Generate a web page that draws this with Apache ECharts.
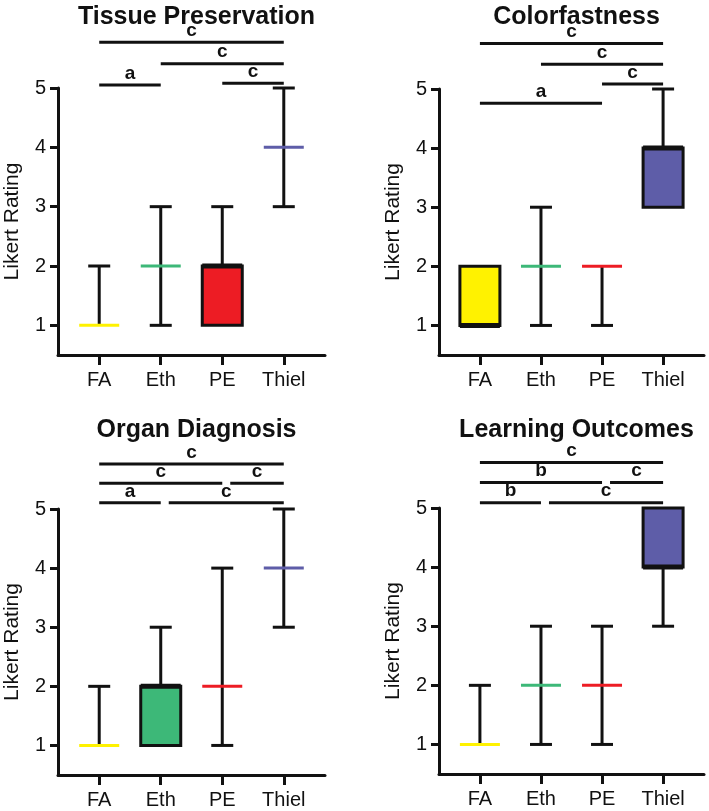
<!DOCTYPE html>
<html><head><meta charset="utf-8">
<script src="https://cdn.jsdelivr.net/npm/echarts@6/dist/echarts.min.js"></script>
<style>html,body{margin:0;padding:0;background:#fff}#c{width:709px;height:811px}</style>
</head><body><div id="c"></div>
<script>
const categories = ['FA', 'Eth', 'PE', 'Thiel'];
const yTicks = [1, 2, 3, 4, 5];
const titles = ['Tissue Preservation', 'Colorfastness', 'Organ Diagnosis', 'Learning Outcomes'];
const axisName = 'Likert Rating';
const groupColors = ['#FFF200', '#3DB878', '#ED1C24', '#5E5DA8'];

// per category: [min, q1, median, q3, max]
const tissueBoxes = [[1,1,1,1,2],[1,2,2,2,3],[1,1,2,2,3],[3,4,4,4,5]];
const colorBoxes  = [[1,1,1,2,2],[1,2,2,2,3],[1,2,2,2,2],[3,3,4,4,5]];
const organBoxes  = [[1,1,1,1,2],[1,1,2,2,3],[1,2,2,2,4],[3,4,4,4,5]];
const learnBoxes  = [[1,1,1,1,2],[1,2,2,2,3],[1,2,2,2,3],[3,4,4,5,5]];

// significance brackets: [from category, to category, rating level, letter]
const tissueSig = [[0,3,5.77,'c'],[1,3,5.41,'c'],[0,1,5.05,'a'],[2,3,5.08,'c']];
const colorSig  = [[0,3,5.77,'c'],[1,3,5.42,'c'],[2,3,5.085,'c'],[0,2,4.76,'a']];
const organSig  = [[0,3,5.76,'c'],[0,2,5.435,'c'],[2,3,5.435,'c'],[0,1,5.105,'a'],[1,3,5.105,'c']];
const learnSig  = [[0,3,5.77,'c'],[0,2,5.43,'b'],[2,3,5.43,'c'],[0,1,5.09,'b'],[1,3,5.09,'c']];

const allBoxes = [tissueBoxes, colorBoxes, organBoxes, learnBoxes];
const allSig = [tissueSig, colorSig, organSig, learnSig];

const FONT = '"Liberation Sans", Arial, Helvetica, sans-serif';
const BLACK = '#111111';
const grids = [
  {left: 58, top: 88, width: 267, height: 267},
  {left: 439, top: 89, width: 265, height: 266},
  {left: 58, top: 509, width: 267, height: 266},
  {left: 439, top: 508, width: 265, height: 266}
];
const titleTops = [0, 0, 413, 413];

const chart = echarts.init(document.getElementById('c'), null, {renderer: 'canvas'});

function boxRender(params, api) {
  const i = api.value(0);
  const mn = api.value(1), q1 = api.value(2), md = api.value(3), q3 = api.value(4), mx = api.value(5);
  const cx = api.coord([i, 1])[0];
  const Y = v => api.coord([i, v])[1];
  const color = groupColors[i];
  const halfBox = 20, halfCap = 11;
  const wl = {stroke: BLACK, lineWidth: 3, lineCap: 'butt'};
  const ch = [];
  if (mx > q3) {
    ch.push({type: 'line', shape: {x1: cx, y1: Y(q3), x2: cx, y2: Y(mx)}, style: wl});
    ch.push({type: 'line', shape: {x1: cx - halfCap, y1: Y(mx), x2: cx + halfCap, y2: Y(mx)}, style: wl});
  }
  if (mn < q1) {
    ch.push({type: 'line', shape: {x1: cx, y1: Y(mn), x2: cx, y2: Y(q1)}, style: wl});
    ch.push({type: 'line', shape: {x1: cx - halfCap, y1: Y(mn), x2: cx + halfCap, y2: Y(mn)}, style: wl});
  }
  if (q3 > q1) {
    ch.push({type: 'rect', shape: {x: cx - halfBox, y: Y(q3), width: 2 * halfBox, height: Y(q1) - Y(q3)},
      style: {fill: color, stroke: BLACK, lineWidth: 3}});
    ch.push({type: 'line', shape: {x1: cx - halfBox, y1: Y(md), x2: cx + halfBox, y2: Y(md)},
      style: {stroke: BLACK, lineWidth: 5}});
  } else {
    ch.push({type: 'line', shape: {x1: cx - halfBox, y1: Y(md), x2: cx + halfBox, y2: Y(md)},
      style: {stroke: color, lineWidth: 3, lineCap: 'butt'}});
  }
  return {type: 'group', children: ch};
}

function makeSigRender(sig) {
  return function (params, api) {
    const a = api.value(0), b = api.value(1), lv = api.value(2);
    const letter = sig[params.dataIndex][3];
    const adj = sig.some(s => s !== sig[params.dataIndex] && s[2] === lv && s[1] === a);
    const p1 = api.coord([a, lv]), p2 = api.coord([b, lv]);
    const x1 = p1[0] + (adj ? 8 : 0), x2 = p2[0];
    return {type: 'group', children: [
      {type: 'line', shape: {x1: x1, y1: p1[1], x2: x2, y2: p1[1]}, style: {stroke: BLACK, lineWidth: 3}},
      {type: 'text', x: (x1 + x2) / 2, y: p1[1] - 2,
        style: {text: letter, fill: BLACK, font: 'bold 19px ' + FONT, align: 'center', verticalAlign: 'bottom'}}
    ]};
  };
}

const option = {
  backgroundColor: '#ffffff',
  animation: false,
  title: titles.map((t, k) => ({
    text: t, left: grids[k].left + grids[k].width / 2, top: titleTops[k], textAlign: 'center',
    textStyle: {fontFamily: FONT, fontSize: 25, fontWeight: 'bold', color: BLACK}
  })),
  grid: grids,
  xAxis: grids.map((g, k) => ({
    type: 'value', gridIndex: k, min: -0.67, max: 3.67,
    splitLine: {show: false},
    axisLine: {show: true, onZero: false, lineStyle: {color: BLACK, width: 3}},
    axisTick: {show: true, customValues: [0, 1, 2, 3], length: 10, lineStyle: {color: BLACK, width: 3}},
    axisLabel: {customValues: [0, 1, 2, 3], formatter: v => categories[Math.round(v)] || '',
      fontFamily: FONT, fontSize: 20, color: BLACK, margin: 15}
  })),
  yAxis: grids.map((g, k) => ({
    type: 'value', gridIndex: k, min: 0.5, max: 5,
    name: axisName, nameLocation: 'middle', nameGap: 35,
    nameTextStyle: {fontFamily: FONT, fontSize: 21, color: BLACK},
    splitLine: {show: false},
    axisLine: {show: true, onZero: false, lineStyle: {color: BLACK, width: 3}},
    axisTick: {show: true, customValues: yTicks, length: 8, lineStyle: {color: BLACK, width: 3}},
    axisLabel: {customValues: yTicks, fontFamily: FONT, fontSize: 20, color: BLACK, margin: 12}
  })),
  series: []
};

allBoxes.forEach((boxes, k) => {
  option.series.push({
    type: 'custom', xAxisIndex: k, yAxisIndex: k,
    renderItem: boxRender,
    encode: {x: 0, y: [1, 2, 3, 4, 5]},
    data: boxes.map((b, i) => [i].concat(b))
  });
  option.series.push({
    type: 'custom', xAxisIndex: k, yAxisIndex: k, clip: false,
    renderItem: makeSigRender(allSig[k]),
    encode: {x: [0, 1], y: 2},
    data: allSig[k].map(s => [s[0], s[1], s[2]])
  });
});

chart.setOption(option);
</script></body></html>
